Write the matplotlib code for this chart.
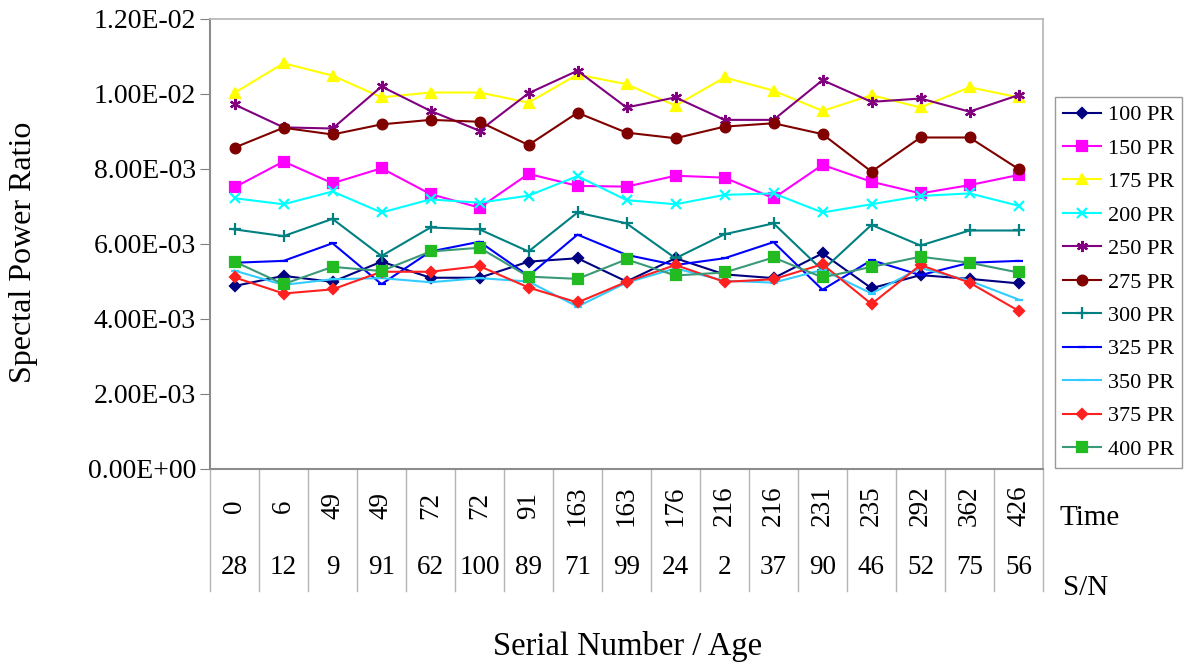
import matplotlib
matplotlib.use("Agg")
import matplotlib.pyplot as plt
import numpy as np

plt.rcParams['font.family'] = ['Liberation Serif', 'DejaVu Serif']

# 类别: 时间 / 序列号
time_labels = ["0", "6", "49", "49", "72", "72", "91", "163", "163", "176",
               "216", "216", "231", "235", "292", "362", "426"]
sn_labels = ["28", "12", "9", "91", "62", "100", "89", "71", "99", "24",
             "2", "37", "90", "46", "52", "75", "56"]

# 数值 (单位 1e-3)
pr100 = [4.88, 5.15, 4.99, 5.53, 5.10, 5.10, 5.53, 5.62, 5.00, 5.62, 5.19, 5.09, 5.75, 4.82, 5.17, 5.07, 4.95]
pr150 = [7.51, 8.20, 7.62, 8.02, 7.33, 6.97, 7.87, 7.55, 7.53, 7.82, 7.77, 7.22, 8.11, 7.66, 7.35, 7.57, 7.84]
pr175 = [10.03, 10.82, 10.49, 9.91, 10.04, 10.04, 9.77, 10.52, 10.26, 9.69, 10.44, 10.09, 9.55, 9.97, 9.64, 10.18, 9.91]
pr200 = [7.22, 7.06, 7.40, 6.84, 7.19, 7.10, 7.29, 7.81, 7.17, 7.06, 7.31, 7.35, 6.84, 7.06, 7.28, 7.35, 7.02]
pr250 = [9.72, 9.11, 9.08, 10.20, 9.55, 9.02, 10.02, 10.62, 9.64, 9.91, 9.31, 9.31, 10.37, 9.79, 9.88, 9.53, 9.97]
pr275 = [8.57, 9.10, 8.92, 9.19, 9.31, 9.26, 8.64, 9.50, 8.97, 8.82, 9.13, 9.22, 8.93, 7.93, 8.84, 8.84, 8.00]
pr300 = [6.39, 6.21, 6.67, 5.68, 6.44, 6.39, 5.80, 6.84, 6.55, 5.62, 6.26, 6.55, 5.30, 6.51, 5.96, 6.36, 6.36]
pr325 = [5.50, 5.55, 6.02, 4.93, 5.80, 6.06, 5.15, 6.25, 5.71, 5.44, 5.62, 6.05, 4.78, 5.57, 5.17, 5.50, 5.55]
pr350 = [5.29, 4.91, 5.06, 5.09, 4.98, 5.09, 5.00, 4.33, 4.97, 5.35, 5.02, 4.97, 5.31, 4.68, 5.36, 5.02, 4.52]
pr375 = [5.11, 4.68, 4.79, 5.26, 5.26, 5.41, 4.84, 4.44, 4.99, 5.44, 4.99, 5.06, 5.46, 4.40, 5.44, 4.97, 4.22]
pr400 = [5.53, 4.93, 5.39, 5.28, 5.80, 5.90, 5.13, 5.07, 5.59, 5.16, 5.24, 5.64, 5.11, 5.39, 5.66, 5.50, 5.24]

series = [
    ("100 PR", pr100, "#000080", "#000080", "D", 5),
    ("150 PR", pr150, "#FF00FF", "#FF00FF", "s", 7),
    ("175 PR", pr175, "#FFFF00", "#FFFF00", "^", 7),
    ("200 PR", pr200, "#00FFFF", "#00FFFF", "x", 7),
    ("250 PR", pr250, "#800080", "#800080", (6, 2, 0), 8),
    ("275 PR", pr275, "#800000", "#800000", "o", 7),
    ("300 PR", pr300, "#008080", "#008080", "+", 8),
    ("325 PR", pr325, "#0000FF", "#0000FF", "_", 6),
    ("350 PR", pr350, "#33CCFF", "#33CCFF", "_", 6),
    ("375 PR", pr375, "#FF2020", "#FF2020", "D", 5),
    ("400 PR", pr400, "#3A9A78", "#22BB22", "s", 7),
]

fig = plt.figure(figsize=(11.91, 6.70), dpi=100)
ax = fig.add_axes([210/1191, 1-469/670, 833/1191, 450/670])

x = np.arange(len(time_labels))
for name, vals, lc, mc, mk, ms in series:
    ax.plot(x, np.array(vals) * 1e-3, color=lc, lw=1.5, marker=mk, ms=ms,
            markerfacecolor=mc, markeredgecolor=mc, markeredgewidth=1.6, label=name)

ax.set_xlim(-0.5, len(x) - 0.5)
ax.set_ylim(0, 0.012)
ax.set_yticks(np.arange(0, 0.0121, 0.002))
ax.set_yticklabels(["{:.2E}".format(v) for v in np.arange(0, 0.0121, 0.002)])
ax.tick_params(axis="y", labelsize=20, length=7, pad=3, color="#808080", direction="out")
ax.set_xticks([])

for s in ["left", "bottom"]:
    ax.spines[s].set_color("#8c8c8c")
    ax.spines[s].set_linewidth(1.5)
for s in ["top", "right"]:
    ax.spines[s].set_color("#b4b4b4")
    ax.spines[s].set_linewidth(1.2)

# 分类表格
tr = ax.get_xaxis_transform()
for b in np.arange(-0.5, len(x), 1.0):
    ax.plot([b, b], [0, -0.27], transform=tr, color="#b4b4b4", lw=1, clip_on=False)
for i in x:
    ax.text(i, -0.082, time_labels[i], transform=tr, rotation=90, ha="center",
            va="center", fontsize=19.5)
    ax.text(i, -0.218, sn_labels[i], transform=tr, ha="center", va="center", fontsize=19.5)

fig.text(1060/1191, 1-518/670, "Time", fontsize=21, va="center", ha="left")
fig.text(1063/1191, 1-588/670, "S/N", fontsize=21, va="center", ha="left")

fig.text(24/1191, 1-252/670, "Spectal Power Ratio", fontsize=23, rotation=90,
         ha="center", va="center")
fig.text(628/1191, 1-647/670, "Serial Number / Age", fontsize=23.5, ha="center", va="center")

leg = ax.legend(loc="upper left", bbox_to_anchor=(1055/1191, 1-97/670),
                bbox_transform=fig.transFigure, fontsize=16, frameon=True,
                fancybox=False, edgecolor="#808080", handlelength=1.7,
                labelspacing=0.58, borderpad=0.35, handletextpad=0.35,
                borderaxespad=0)
leg.get_frame().set_linewidth(1.0)

plt.savefig("out.png", dpi=100)
